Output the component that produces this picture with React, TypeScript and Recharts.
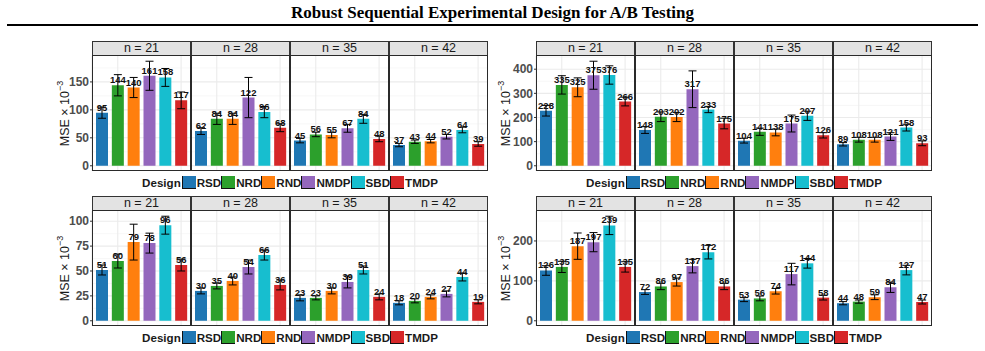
import React from "react";
import { BarChart, Bar, XAxis, YAxis, CartesianGrid, ErrorBar, LabelList, Cell } from "recharts";

const designs = ["RSD", "NRD", "RND", "NMDP", "SBD", "TMDP"];
const designColors = ["#1f77b4", "#2ca02c", "#ff7f0e", "#9467bd", "#17becf", "#d62728"];
const sampleSizes = ["n = 21", "n = 28", "n = 35", "n = 42"];

// MSE (x 10^-3) per sample size, one row per facet, columns follow `designs`
const mseTopLeft = [
  [95, 144, 140, 161, 158, 117],
  [62, 84, 84, 122, 96, 68],
  [45, 56, 55, 67, 84, 48],
  [37, 43, 44, 52, 64, 39],
];
const errTopLeft = [
  [10, 19, 18, 26, 16, 15],
  [6, 10, 10, 36, 10, 7],
  [4, 4, 5, 7, 8, 5],
  [3, 3, 3, 4, 5, 4],
];
const ticksTopLeft = [0, 50, 100, 150];

const mseTopRight = [
  [228, 335, 325, 375, 376, 266],
  [148, 203, 202, 317, 233, 175],
  [104, 141, 138, 175, 207, 126],
  [89, 108, 108, 121, 158, 93],
];
const errTopRight = [
  [22, 38, 39, 58, 38, 18],
  [14, 20, 19, 76, 13, 22],
  [10, 15, 14, 35, 19, 11],
  [7, 10, 10, 16, 14, 10],
];
const ticksTopRight = [0, 100, 200, 300, 400];

const mseBottomLeft = [
  [51, 60, 79, 78, 96, 56],
  [30, 35, 40, 54, 66, 36],
  [23, 23, 30, 39, 51, 24],
  [18, 20, 24, 27, 44, 19],
];
const errBottomLeft = [
  [5, 7, 18, 10, 9, 6],
  [3, 3, 4, 7, 5, 5],
  [3, 2, 3, 6, 4, 3],
  [2, 2, 2, 3, 4, 2],
];
const ticksBottomLeft = [0, 25, 50, 75, 100];

const mseBottomRight = [
  [126, 135, 187, 197, 239, 135],
  [72, 86, 97, 137, 172, 86],
  [53, 56, 74, 117, 144, 58],
  [44, 48, 59, 84, 127, 47],
];
const errBottomRight = [
  [12, 14, 33, 24, 23, 13],
  [6, 8, 10, 17, 17, 8],
  [5, 6, 7, 27, 12, 6],
  [4, 4, 6, 13, 12, 5],
];
const ticksBottomRight = [0, 100, 200];

const FACET_W = 99;
const AXIS_W = 52;
const STRIP_H = 15;
const PLOT_H = 115;
const PAD_B = 10; // room below the plot so the "0" tick isn't clipped
const SANS = "'Liberation Sans', Arial, Helvetica, sans-serif";

function YLabel({ viewBox, labelX }: any) {
  const cy = viewBox.y + viewBox.height / 2;
  return (
    <text
      x={labelX}
      y={cy}
      transform={`rotate(-90 ${labelX} ${cy})`}
      textAnchor="middle"
      dominantBaseline="central"
      fontSize={12.5}
      fill="#1a1a1a"
      fontFamily={SANS}
    >
      MSE × 10
      <tspan dy={-5} fontSize={9}>
        −3
      </tspan>
    </text>
  );
}

interface FacetProps {
  means: number[];
  errs: number[];
  domain: [number, number];
  ticks: number[];
  minor: number[];
  showAxis: boolean;
  labelX: number;
}

function Facet({ means, errs, domain, ticks, minor, showAxis, labelX }: FacetProps) {
  const data = designs.map((d, i) => ({ design: d, mse: means[i], err: errs[i] }));
  const axisW = showAxis ? AXIS_W : 0;
  return (
    <BarChart
      width={FACET_W + axisW}
      height={PLOT_H + PAD_B}
      data={data}
      margin={{ top: 0, right: 0, bottom: PAD_B, left: 0 }}
      barSize={12}
    >
      <CartesianGrid horizontalValues={minor} vertical={false} stroke="#f4f4f4" strokeWidth={0.7} />
      <CartesianGrid horizontalValues={ticks} stroke="#ebebeb" strokeWidth={1.1} />
      <XAxis dataKey="design" hide padding={{ left: 2, right: 2 }} />
      <YAxis
        type="number"
        domain={domain}
        ticks={ticks}
        interval={0}
        allowDataOverflow
        hide={!showAxis}
        width={axisW}
        axisLine={false}
        tickLine={{ stroke: "#333" }}
        tickSize={2}
        tickMargin={1}
        tick={{ fill: "#4d4d4d", fontSize: 12, fontWeight: "bold", fontFamily: SANS }}
        label={showAxis ? <YLabel labelX={labelX} /> : undefined}
      />
      <Bar dataKey="mse" isAnimationActive={false}>
        {data.map((d, i) => (
          <Cell key={d.design} fill={designColors[i]} />
        ))}
        <ErrorBar dataKey="err" width={4} stroke="#000" strokeWidth={1} />
        <LabelList
          dataKey="mse"
          position="top"
          offset={2}
          fill="#111"
          fontSize={9.5}
          fontWeight="bold"
          fontFamily={SANS}
        />
      </Bar>
    </BarChart>
  );
}

interface PanelProps {
  left: number;
  top: number;
  means: number[][];
  errs: number[][];
  ticks: number[];
  labelX: number;
}

function Panel({ left, top, means, errs, ticks, labelX }: PanelProps) {
  // ggplot-style limits: include zero, expand 5% either side
  const hi = Math.max(...means.flatMap((row, f) => row.map((m, i) => m + errs[f][i])));
  const domain: [number, number] = [-hi * 0.05, hi * 1.05];
  const step = ticks[1] - ticks[0];
  const minor: number[] = [];
  for (let v = step / 2; v < domain[1]; v += step) minor.push(v);

  return (
    <>
      {sampleSizes.map((s, f) => {
        const x = left + f * FACET_W;
        return (
          <React.Fragment key={s}>
            <div style={{ position: "absolute", left: x - (f === 0 ? AXIS_W : 0), top: top + STRIP_H }}>
              <Facet
                means={means[f]}
                errs={errs[f]}
                domain={domain}
                ticks={ticks}
                minor={minor}
                showAxis={f === 0}
                labelX={labelX}
              />
            </div>
            <div
              style={{
                position: "absolute",
                left: x,
                top,
                width: FACET_W,
                height: STRIP_H,
                boxSizing: "border-box",
                background: "#e3e3e3",
                border: "1px solid #333",
                fontSize: 12.5,
                lineHeight: `${STRIP_H - 2}px`,
                textAlign: "center",
                color: "#1a1a1a",
              }}
            >
              {s}
            </div>
            <div
              style={{
                position: "absolute",
                left: x,
                top: top + STRIP_H - 1,
                width: FACET_W,
                height: PLOT_H + 1,
                boxSizing: "border-box",
                border: "1.4px solid #2a2a2a",
                pointerEvents: "none",
              }}
            />
          </React.Fragment>
        );
      })}
      <div
        style={{
          position: "absolute",
          left,
          top: top + STRIP_H + PLOT_H + 4,
          width: FACET_W * 4,
          height: 14,
          display: "flex",
          justifyContent: "center",
          alignItems: "center",
          fontSize: 11.6,
          fontWeight: "bold",
          color: "#1a1a1a",
        }}
      >
        <span style={{ marginRight: 1 }}>Design</span>
        {designs.map((d, i) => (
          <React.Fragment key={d}>
            <span
              style={{
                display: "inline-block",
                width: 14,
                height: 13,
                boxSizing: "border-box",
                background: designColors[i],
                borderLeft: "1px solid #111",
                borderBottom: "1.5px solid #111",
              }}
            />
            <span style={{ marginLeft: 1 }}>{d}</span>
          </React.Fragment>
        ))}
      </div>
    </>
  );
}

export default function App() {
  return (
    <div
      style={{
        position: "absolute",
        left: 0,
        top: 0,
        width: 985,
        height: 351,
        background: "#fff",
        fontFamily: SANS,
        overflow: "hidden",
      }}
    >
      <div
        style={{
          position: "absolute",
          left: 0,
          top: 3,
          width: 985,
          textAlign: "center",
          fontFamily: "'Liberation Serif', 'Times New Roman', serif",
          fontWeight: "bold",
          fontSize: 17,
          lineHeight: "20px",
          color: "#000",
        }}
      >
        Robust Sequential Experimental Design for A/B Testing
      </div>
      <div style={{ position: "absolute", left: 7, top: 24, width: 971, height: 2, background: "#000" }} />
      <Panel left={92} top={41} means={mseTopLeft} errs={errTopLeft} ticks={ticksTopLeft} labelX={25} />
      <Panel left={536} top={41} means={mseTopRight} errs={errTopRight} ticks={ticksTopRight} labelX={22} />
      <Panel left={92} top={196} means={mseBottomLeft} errs={errBottomLeft} ticks={ticksBottomLeft} labelX={25} />
      <Panel left={536} top={196} means={mseBottomRight} errs={errBottomRight} ticks={ticksBottomRight} labelX={22} />
    </div>
  );
}
